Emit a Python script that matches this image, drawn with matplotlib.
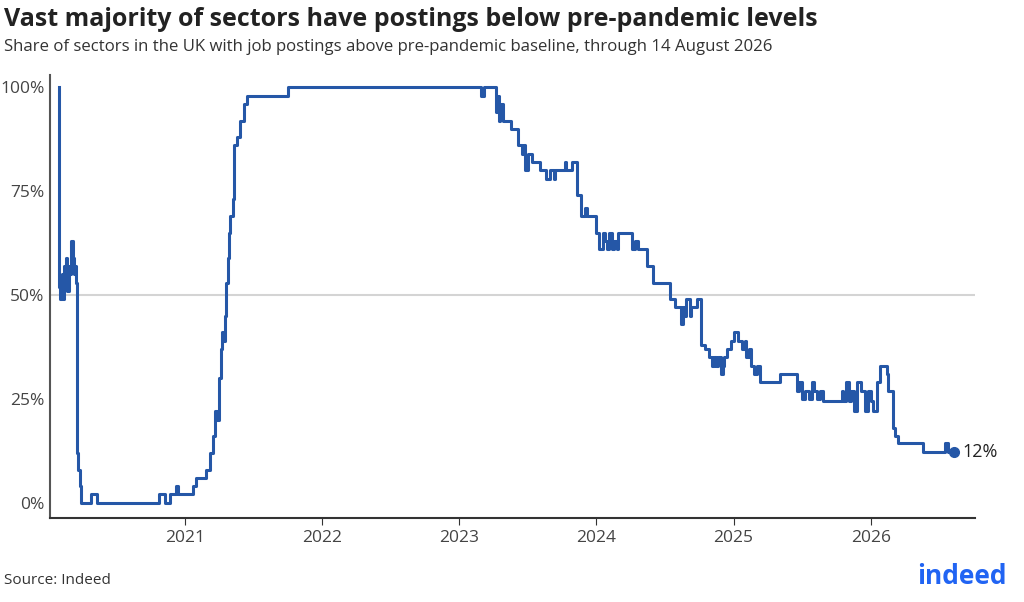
import matplotlib
matplotlib.use("Agg")
import matplotlib.pyplot as plt

plt.rcParams['font.family'] = ['Open Sans', 'Noto Sans', 'DejaVu Sans']

years = [2020.078, 2020.082, 2020.09, 2020.10, 2020.11, 2020.12, 2020.13, 2020.14, 2020.15, 2020.16,
         2020.17, 2020.18, 2020.19, 2020.20, 2020.205, 2020.21, 2020.22, 2020.23, 2020.24, 2020.315,
         2020.358, 2020.81, 2020.854, 2020.89, 2020.934, 2020.95, 2021.06, 2021.08, 2021.15, 2021.18,
         2021.20, 2021.22, 2021.23, 2021.25, 2021.26, 2021.27, 2021.28, 2021.29, 2021.30, 2021.31,
         2021.32, 2021.33, 2021.35, 2021.36, 2021.38, 2021.40, 2021.43, 2021.45, 2021.75,
         2023.16, 2023.18, 2023.27, 2023.28, 2023.29, 2023.30, 2023.32, 2023.38, 2023.43, 2023.46,
         2023.47, 2023.48, 2023.50, 2023.53, 2023.59, 2023.63, 2023.66, 2023.69, 2023.70, 2023.77,
         2023.78, 2023.82, 2023.86, 2023.89, 2023.92, 2023.93, 2024.0, 2024.02, 2024.05, 2024.06,
         2024.08, 2024.09, 2024.11, 2024.13, 2024.15, 2024.16, 2024.26, 2024.28, 2024.30, 2024.37,
         2024.41, 2024.54, 2024.57, 2024.62, 2024.63, 2024.64, 2024.65, 2024.68, 2024.69, 2024.73,
         2024.76, 2024.79, 2024.82, 2024.84, 2024.86, 2024.87, 2024.89, 2024.91, 2024.92, 2024.93,
         2024.95, 2024.98, 2025.0, 2025.03, 2025.06, 2025.08, 2025.09, 2025.11, 2025.13, 2025.15,
         2025.17, 2025.19, 2025.34, 2025.46, 2025.48, 2025.50, 2025.52, 2025.55, 2025.57, 2025.59,
         2025.61, 2025.63, 2025.65, 2025.79, 2025.80, 2025.82, 2025.84, 2025.86, 2025.88, 2025.90,
         2025.93, 2025.96, 2025.98, 2026.00, 2026.02, 2026.05, 2026.07, 2026.09, 2026.12, 2026.13,
         2026.16, 2026.18, 2026.20, 2026.38, 2026.54, 2026.565, 2026.61]
values = [100, 52, 49, 55, 49, 57, 59, 51, 57, 55,
          63, 59, 55, 57, 53, 12, 8, 4, 0, 2,
          0, 2, 0, 2, 4, 2, 4, 6, 8, 12,
          16, 22, 20, 30, 37, 41, 39, 45, 53, 59,
          65, 69, 73, 86, 88, 92, 96, 98, 100,
          98, 100, 94, 98, 92, 96, 92, 90, 86, 84,
          86, 80, 84, 82, 80, 78, 80, 78, 80, 82,
          80, 82, 74, 69, 71, 69, 65, 61, 65, 63,
          61, 65, 61, 63, 61, 65, 61, 63, 61, 57,
          53, 49, 47, 43, 47, 45, 49, 45, 47, 49,
          38, 37, 35, 33, 35, 33, 35, 31, 33, 35,
          37, 39, 41, 39, 37, 39, 35, 37, 33, 31,
          33, 29, 31, 27, 29, 25, 27, 25, 29, 27,
          25, 27, 24.5, 27, 24.5, 29, 24.5, 27, 22, 29,
          27, 22, 27, 24.5, 22, 29, 33, 33, 31, 27,
          18, 16, 14.3, 12.2, 14.3, 12.2, 12.2]
end_label = "12%"

fig = plt.figure(figsize=(10.24, 6.02), dpi=100)
ax = fig.add_axes([0.049, 0.14, 0.903, 0.735])
blue = "#2557a7"
ax.axhline(50, color="#d4d4d4", lw=1.5, zorder=1)
ax.plot(years, values, drawstyle="steps-post", color=blue, lw=2.2, zorder=3)
ax.plot([years[-1]], [values[-1]], "o", color=blue, ms=7, zorder=4)
ax.text(years[-1] + 0.06, values[-1], end_label, va="center", ha="left", fontsize=13, color="#222222")

ax.set_xlim(2020.016, 2026.76)
ax.set_ylim(-3.6, 102.9)
ax.set_yticks([0, 25, 50, 75, 100])
ax.set_yticklabels(["0%", "25%", "50%", "75%", "100%"], fontsize=12.5, color="#444444")
ax.set_xticks([2021, 2022, 2023, 2024, 2025, 2026])
ax.set_xticklabels(["2021", "2022", "2023", "2024", "2025", "2026"], fontsize=12.5, color="#444444")
ax.tick_params(axis="y", length=0, pad=4)
ax.tick_params(axis="x", length=5, color="#333333", pad=4)
for s in ["top", "right"]:
    ax.spines[s].set_visible(False)
ax.spines["left"].set_color("#555555")
ax.spines["left"].set_linewidth(1.5)
ax.spines["bottom"].set_color("#333333")
ax.spines["bottom"].set_linewidth(1.5)

fig.text(0.004, 0.968, "Vast majority of sectors have postings below pre-pandemic levels",
         fontsize=18, fontweight="bold", color="#222222", va="center")
fig.text(0.004, 0.922, "Share of sectors in the UK with job postings above pre-pandemic baseline, through 14 August 2026",
         fontsize=12.1, color="#333333", va="center")
fig.text(0.004, 0.035, "Source: Indeed", fontsize=11, color="#333333", va="center")
fig.text(0.983, 0.042, "indeed", fontsize=19, fontweight="bold", color="#2164f3", ha="right", va="center")

fig.savefig("out.png", dpi=100)
